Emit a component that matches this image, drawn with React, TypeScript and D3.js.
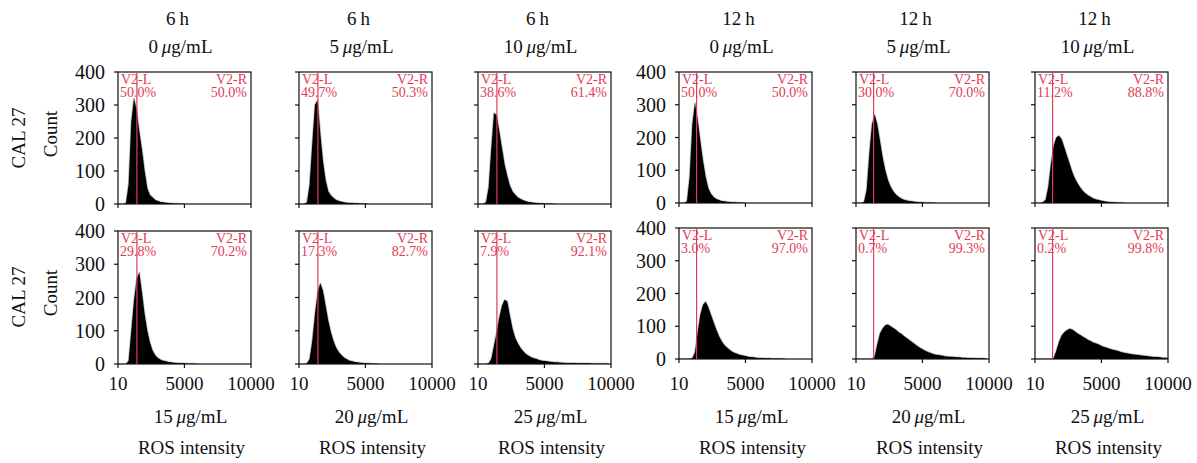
import React from "react";
import * as d3 from "d3";

// ---------- data ----------
const binStart = 10;
const binWidth = 200;
const xTicks = [10, 5000, 10000];
const yTicks = [0, 100, 200, 300, 400];
const times = ["6\u2009h", "12\u2009h"];
const topConc = ["0", "5", "10"];
const bottomConc = ["15", "20", "25"];
const rowLabel = "CAL 27";
const yLabel = "Count";
const xLabel = "ROS intensity";

// counts per bin (bin i starts at 10 + 200*i)
const h6c0 = [0, 0, 0, 3, 60, 250, 320, 285, 220, 165, 100, 48, 27, 20, 12, 9, 6, 5, 4, 3, 2, 1.5, 1, 1, 0.5, 0];
const h6c5 = [0, 0, 0, 5, 60, 185, 300, 315, 215, 130, 72, 38, 26, 18, 12, 9, 7, 5, 4, 3, 3, 2, 2, 1, 1, 0.5, 0];
const h6c10 = [0, 0, 0, 5, 50, 170, 275, 270, 220, 170, 120, 85, 55, 38, 28, 20, 15, 11, 8, 6, 5, 4, 3, 2, 2, 1, 1, 1, 0.5, 0];
const h12c0 = [0, 0, 0, 5, 80, 240, 305, 255, 190, 130, 80, 45, 28, 18, 12, 9, 6, 5, 4, 3, 2, 2, 1, 1, 0.5, 0];
const h12c5 = [0, 0, 0, 3, 40, 150, 240, 270, 240, 190, 140, 100, 70, 50, 36, 26, 19, 14, 10, 8, 6, 5, 4, 3, 2, 2, 1, 1, 1, 0.5, 0];
const h12c10 = [0, 0, 0, 2, 10, 50, 120, 175, 200, 205, 195, 170, 145, 120, 95, 75, 60, 47, 37, 29, 23, 18, 14, 11, 9, 7, 5, 4, 3, 2, 2, 1, 1, 0.5, 0];
const h6c15 = [0, 0, 0, 0, 10, 100, 190, 255, 275, 215, 150, 100, 65, 40, 26, 18, 13, 10, 8, 6, 5, 4, 3, 3, 2, 2, 1, 1, 1, 0.5, 0];
const h6c20 = [0, 0, 0, 2, 15, 70, 150, 215, 243, 220, 175, 130, 95, 68, 48, 35, 26, 19, 14, 10, 8, 6, 5, 4, 3, 2, 2, 1, 1, 0.5, 0];
const h6c25 = [0, 0, 0, 0, 2, 15, 55, 95, 140, 175, 193, 188, 145, 105, 78, 62, 48, 38, 30, 25, 20, 17, 15, 12, 10, 9, 8, 7, 6, 5, 5, 4, 4, 3, 3, 3, 3, 2, 2, 2, 2, 2, 2, 1, 1, 1, 1, 1, 1, 1];
const h12c15 = [0, 0, 0, 0, 0, 2, 20, 80, 135, 165, 175, 158, 135, 112, 90, 70, 55, 43, 35, 28, 22, 18, 15, 12, 11, 9, 7, 6, 5, 4, 3, 3, 2, 2, 2, 1, 1, 1, 1, 0.5, 0];
const h12c20 = [0, 0, 0, 0, 0, 0, 0, 8, 45, 78, 93, 103, 105, 100, 95, 89, 82, 77, 70, 64, 58, 52, 46, 40, 34, 30, 25, 21, 18, 15, 13, 12, 11, 9, 8, 7, 7, 6, 5, 5, 4, 4, 3, 3, 3, 2, 2, 2, 2, 1];
const h12c25 = [0, 0, 0, 0, 0, 0, 0, 2, 25, 52, 72, 82, 88, 92, 90, 84, 78, 73, 68, 63, 58, 54, 50, 47, 44, 40, 37, 34, 31, 29, 27, 25, 22, 20, 18, 17, 15, 14, 13, 12, 11, 10, 9, 8, 7, 6, 6, 5, 4, 4, 3];

const gate6h = 1430;
const gate12h = 1330;

const leftPct = [["50.0%", "49.7%", "38.6%", "50.0%", "30.0%", "11.2%"], ["29.8%", "17.3%", "7.9%", "3.0%", "0.7%", "0.2%"]];
const rightPct = [["50.0%", "50.3%", "61.4%", "50.0%", "70.0%", "88.8%"], ["70.2%", "82.7%", "92.1%", "97.0%", "99.3%", "99.8%"]];
const histograms = [[h6c0, h6c5, h6c10, h12c0, h12c5, h12c10], [h6c15, h6c20, h6c25, h12c15, h12c20, h12c25]];

// ---------- layout ----------
const W = 1197;
const H = 463;
const colLeft = [118, 299, 478, 679, 856, 1035];
const panelW = 133;
const rowTop = [[72, 231], [72, 228]]; // [group][row]
const rowBottom = [[204, 364], [203, 359]];
const RED = "#e23b55";
const FONT = "'Liberation Serif', 'Times New Roman', serif";
const FS = 19;
const RFS = 14;

function Conc({ x, y, v }: { x: number; y: number; v: string }) {
  return (
    <text x={x} y={y} textAnchor="middle" fontFamily={FONT} fontSize={FS} fill="#111">
      {v}
      {"\u2009"}
      <tspan fontStyle="italic">μ</tspan>g/mL
    </text>
  );
}

function Panel({ row, col }: { row: number; col: number }) {
  const group = col < 3 ? 0 : 1;
  const left = colLeft[col];
  const top = rowTop[group][row];
  const bottom = rowBottom[group][row];
  const x = d3.scaleLinear().domain([10, 10000]).range([left, left + panelW]);
  const y = d3.scaleLinear().domain([0, 400]).range([bottom, top]);
  const counts = histograms[row][col];
  const area = d3
    .area<number>()
    .x((_, i) => x(binStart + i * binWidth))
    .y0(y(0))
    .y1((d) => y(d));
  const path = area(counts) || "";
  const gate = group === 0 ? gate6h : gate12h;
  const showY = col === 0 || col === 3;
  const showX = row === 1;
  const clipId = `clip-${row}-${col}`;
  return (
    <g>
      <defs>
        <clipPath id={clipId}>
          <rect x={left} y={top} width={panelW} height={bottom - top} />
        </clipPath>
      </defs>
      <g clipPath={`url(#${clipId})`}>
        <path d={path} fill="#000" stroke="#bdbdbd" strokeWidth={1.6} strokeLinejoin="round" />
        <path d={path} fill="#000" />
      </g>
      <rect x={left} y={top} width={panelW} height={bottom - top} fill="none" stroke="#111" strokeWidth={1.2} />
      <line x1={x(gate)} x2={x(gate)} y1={top} y2={bottom} stroke={RED} strokeWidth={1.2} />
      {yTicks.map((t) => (
        <g key={`y${t}`}>
          <line x1={left - 4} x2={left} y1={y(t)} y2={y(t)} stroke="#111" strokeWidth={1.2} />
          {showY && (
            <text x={left - 13} y={y(t)} dy="0.35em" textAnchor="end" fontFamily={FONT} fontSize={FS + 1} fill="#111">
              {t}
            </text>
          )}
        </g>
      ))}
      {xTicks.map((t) => (
        <g key={`x${t}`}>
          <line x1={x(t)} x2={x(t)} y1={bottom} y2={bottom + 4} stroke="#111" strokeWidth={1.2} />
          {showX && (
            <text x={x(t)} y={390} textAnchor="middle" fontFamily={FONT} fontSize={FS} fill="#111">
              {t}
            </text>
          )}
        </g>
      ))}
      <text x={left + 3} y={top + 12} fontFamily={FONT} fontSize={RFS} fill={RED}>V2-L</text>
      <text x={left + 2} y={top + 25} fontFamily={FONT} fontSize={RFS} fill={RED}>{leftPct[row][col]}</text>
      <text x={left + panelW - 4} y={top + 12} textAnchor="end" fontFamily={FONT} fontSize={RFS} fill={RED}>V2-R</text>
      <text x={left + panelW - 4} y={top + 25} textAnchor="end" fontFamily={FONT} fontSize={RFS} fill={RED}>{rightPct[row][col]}</text>
    </g>
  );
}

export default function App() {
  const cols = [0, 1, 2, 3, 4, 5];
  return (
    <svg width={W} height={H} style={{ position: "absolute", left: 0, top: 0, background: "#fff" }}>
      <rect x={0} y={0} width={W} height={H} fill="#fff" />
      {cols.map((c) => {
        const cx = colLeft[c] + panelW / 2;
        return (
          <g key={`hdr${c}`}>
            <text x={cx - 7} y={25} textAnchor="middle" fontFamily={FONT} fontSize={FS} fill="#111">
              {times[c < 3 ? 0 : 1]}
            </text>
            <Conc x={cx - 4} y={53} v={topConc[c % 3]} />
            <Conc x={cx + 6} y={423} v={bottomConc[c % 3]} />
            <text x={cx + 7} y={454} textAnchor="middle" fontFamily={FONT} fontSize={FS} fill="#111">
              {xLabel}
            </text>
          </g>
        );
      })}
      {[0, 1].map((r) => {
        const cy = r === 0 ? 138 : 297;
        return (
          <g key={`rl${r}`}>
            <text transform={`translate(25,${cy}) rotate(-90)`} textAnchor="middle" fontFamily={FONT} fontSize={FS} fill="#111">
              {rowLabel}
            </text>
            <text transform={`translate(57,${cy - 4}) rotate(-90)`} textAnchor="middle" fontFamily={FONT} fontSize={FS} fill="#111">
              {yLabel}
            </text>
          </g>
        );
      })}
      {[0, 1].map((r) => cols.map((c) => <Panel key={`p${r}${c}`} row={r} col={c} />))}
    </svg>
  );
}
